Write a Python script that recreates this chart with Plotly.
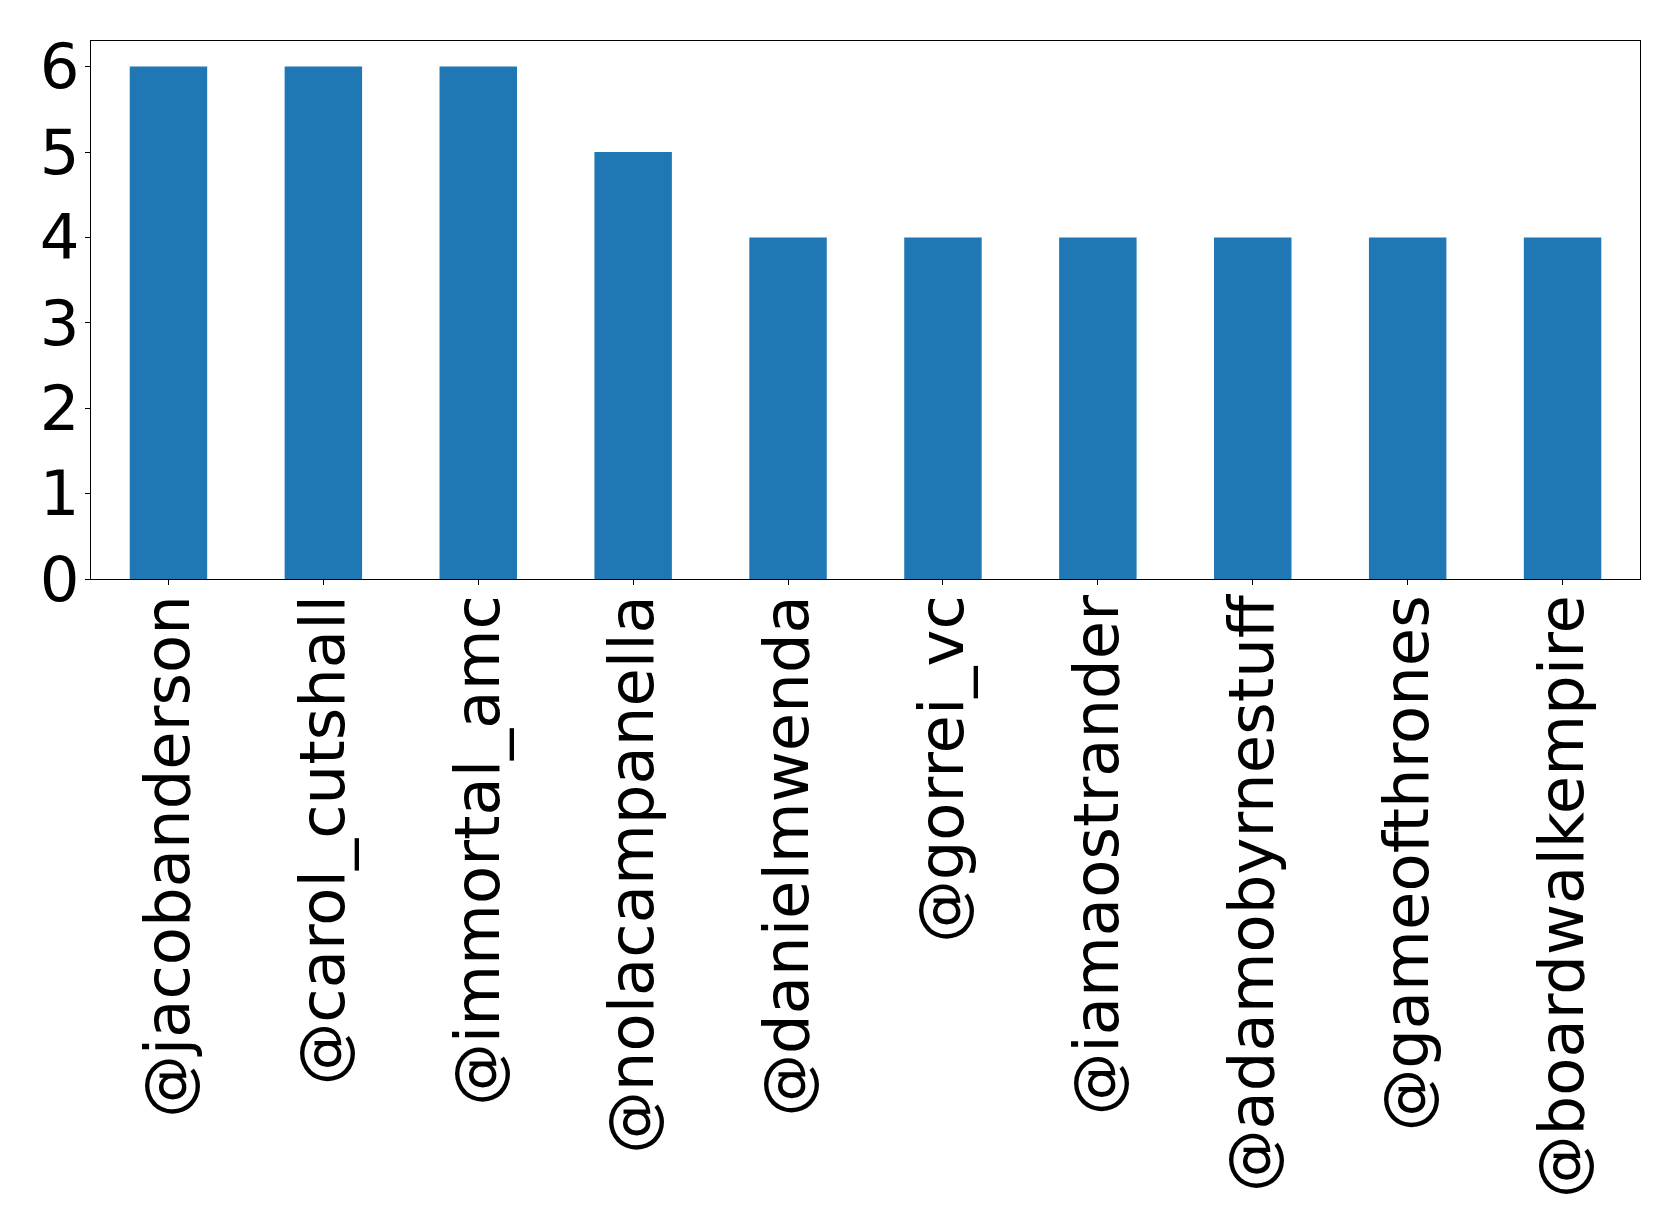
import plotly.graph_objects as go

users = ["@jacobanderson", "@carol_cutshall", "@immortal_amc", "@nolacampanella",
         "@danielmwenda", "@gorrei_vc", "@iamaostrander", "@adamobyrnestuff",
         "@gameofthrones", "@boardwalkempire"]
counts = [6, 6, 6, 5, 4, 4, 4, 4, 4, 4]
y_ticks = [0, 1, 2, 3, 4, 5, 6]

positions = list(range(len(users)))

fig = go.Figure(go.Bar(x=positions, y=counts, width=0.5, marker=dict(color="#1f77b4", line=dict(width=0))))

axis_common = dict(showline=True, mirror=True, linecolor="black", linewidth=1.2,
                   ticks="outside", ticklen=5, tickcolor="black", tickwidth=1.2,
                   showgrid=False, zeroline=False, automargin=False,
                   tickfont=dict(family="DejaVu Sans", size=62.5, color="black"))

fig.update_xaxes(range=[-0.5, 9.5], tickvals=positions, ticktext=users, tickangle=-90,
                 ticklabelstandoff=-15, **axis_common)
fig.update_yaxes(range=[0, 6.3], tickvals=y_ticks, ticklabelstandoff=-7, **axis_common)

fig.update_layout(width=1663, height=1215, plot_bgcolor="white", paper_bgcolor="white",
                  margin=dict(l=82.5, r=31, t=33, b=644), showlegend=False)

fig.write_html("out.html")
